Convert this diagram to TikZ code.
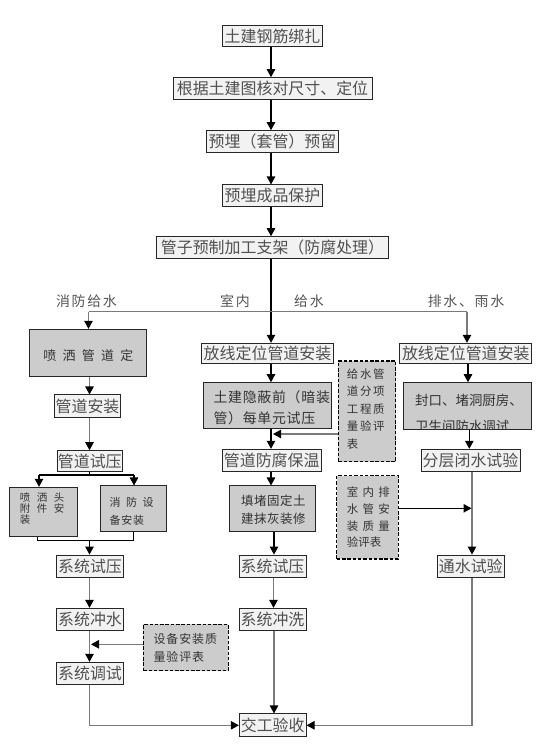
\documentclass[tikz,border=0pt]{standalone}
\usepackage{fontspec}
\newfontfamily\cjk{Noto Sans CJK SC}
\usetikzlibrary{arrows.meta}
\definecolor{boxfill}{HTML}{F2F2F2}
\definecolor{grayfill}{HTML}{CCCCCC}
\definecolor{txtgray}{HTML}{505050}
\definecolor{lblgray}{HTML}{555555}
\definecolor{darktxt}{HTML}{333333}
\definecolor{lgray}{HTML}{7A7A7A}
\begin{document}
\begin{tikzpicture}[x=1bp,y=-1bp,
 sbox/.style={draw=black!85, line width=1bp, fill=boxfill, text=txtgray, inner sep=0pt, font=\cjk\fontsize{16}{16}\selectfont},
 gbox/.style={draw=black!85, line width=1bp, fill=grayfill, inner sep=0pt},
 dbox/.style={draw=black, line width=1.3bp, dash pattern=on 3.5bp off 1.8bp, fill=grayfill, inner sep=0pt},
 gtext/.style={text=darktxt, inner sep=0pt, align=left, anchor=west},
 lbl/.style={text=lblgray, inner sep=0pt, font=\cjk\fontsize{14}{14}\selectfont\addfontfeatures{LetterSpace=12}},
 ln/.style={line width=1.1bp, draw=black},
 lg/.style={line width=1.1bp, draw=lgray},
 arr/.style={-{Triangle[width=8.5bp,length=8bp,black]}},
]
\useasboundingbox (0,0) rectangle (554,746);
\fill[white] (0,0) rectangle (554,746);

% top chain
\node[sbox, minimum width=100bp, minimum height=21.7bp] (n1) at (272.5,36) {土建钢筋绑扎};
\node[sbox, minimum width=199bp, minimum height=21.6bp] (n2) at (272.5,88.5) {根据土建图核对尺寸、定位};
\node[sbox, minimum width=132.6bp, minimum height=21.6bp] (n3) at (272.5,141.5) {预埋（套管）预留};
\node[sbox, minimum width=99.6bp, minimum height=21.7bp] (n4) at (272.5,195.8) {预埋成品保护};
\node[sbox, minimum width=231.6bp, minimum height=21.6bp] (n5) at (272.5,247.5) {管子预制加工支架（防腐处理）};

% branch labels
\node[lbl] (t1) at (86.5,301.5) {消防给水};
\node[lbl] (t2) at (235,301.5) {室内};
\node[lbl] (t3) at (309,301.5) {给水};
\node[lbl] (t4) at (466,301.5) {排水、雨水};

% left column
\node[gbox, minimum width=116bp, minimum height=47.4bp] (L1) at (88,353) {};
\node[gtext, anchor=center, font=\cjk\fontsize{13}{13}\selectfont] (L1t) at (88.3,356) {喷\hspace{6.3bp}洒\hspace{6.3bp}管\hspace{6.3bp}道\hspace{6.3bp}定};
\node[sbox, minimum width=65.7bp, minimum height=22.7bp] (L2) at (87.5,406.3) {管道安装};
\node[sbox, minimum width=65bp, minimum height=21bp] (L3) at (89.8,461.2) {管道试压};
\node[gbox, minimum width=67bp, minimum height=49.4bp] (L4) at (43.5,512) {};
\node[gtext, font=\cjk\fontsize{10.5}{11}\selectfont] (L4t) at (19.8,509) {喷\hspace{6.5bp}洒\hspace{6.5bp}头\\附\hspace{6.5bp}件\hspace{6.5bp}安\\装};
\node[gbox, minimum width=66bp, minimum height=45.7bp] (L5) at (133.5,508.8) {};
\node[gtext, font=\cjk\fontsize{11}{18}\selectfont] (L5t) at (109.5,511) {消\hspace{5.5bp}防\hspace{5.5bp}设\\备\hspace{0.7bp}安\hspace{0.7bp}装};
\node[sbox, minimum width=66.6bp, minimum height=22.3bp] (L6) at (90,566.2) {系统试压};
\node[sbox, minimum width=66.6bp, minimum height=21.7bp] (L7) at (90,619.2) {系统冲水};
\node[sbox, minimum width=66.6bp, minimum height=21.7bp] (L8) at (90,673.2) {系统调试};
\node[dbox, minimum width=85bp, minimum height=46.4bp] (D3) at (185.8,647.5) {};
\node[gtext, font=\cjk\fontsize{12}{17.4}\selectfont\addfontfeatures{LetterSpace=8}] (D3t) at (153.3,648) {设备安装质\\量验评表};

% final
\node[sbox, minimum width=66.7bp, minimum height=22.7bp] (F) at (272.7,725.3) {交工验收};

% middle column
\node[sbox, minimum width=131.6bp, minimum height=20bp] (M1) at (267.5,353.3) {放线定位管道安装};
\node[gbox, minimum width=127.7bp, minimum height=45.6bp] (M2) at (267.8,405.5) {};
\node[gtext, font=\cjk\fontsize{14}{20.5}\selectfont\addfontfeatures{LetterSpace=5}] (M2t) at (213.3,407.7) {土建隐蔽前（暗装\\管）每单元试压};
\node[sbox, minimum width=98.7bp, minimum height=22.4bp] (M3) at (271.7,460.5) {管道防腐保温};
\node[gbox, minimum width=85.7bp, minimum height=45.7bp] (M4) at (272.8,508.8) {};
\node[gtext, font=\cjk\fontsize{12.5}{17.6}\selectfont\addfontfeatures{LetterSpace=4}] (M4t) at (241,509.5) {填堵固定土\\建抹灰装修};
\node[sbox, minimum width=67bp, minimum height=22.3bp] (M5) at (272.5,566.2) {系统试压};
\node[sbox, minimum width=67bp, minimum height=21.7bp] (M6) at (272.5,619.2) {系统冲洗};
\node[dbox, minimum width=57.4bp, minimum height=100.7bp] (D1) at (367,411.3) {};
\node[gtext, font=\cjk\fontsize{11.5}{17.5}\selectfont\addfontfeatures{LetterSpace=15}] (D1t) at (346.7,409) {给水管\\道分项\\工程质\\量验评\\表};
\node[dbox, minimum width=61.6bp, minimum height=83.3bp] (D2) at (367.5,517.4) {};
\node[gtext, font=\cjk\fontsize{11.5}{16.8}\selectfont] (D2t) at (346.7,517.3) {室\hspace{4.3bp}内\hspace{4.3bp}排\\水\hspace{4.3bp}管\hspace{4.3bp}安\\装\hspace{4.3bp}质\hspace{4.3bp}量\\验评表};

% right column
\node[sbox, minimum width=131.7bp, minimum height=20bp] (R1) at (465.8,353.3) {放线定位管道安装};
\node[gbox, minimum width=127.7bp, minimum height=46.6bp] (R2) at (467.8,406) {};
\node[gtext, font=\cjk\fontsize{13.5}{13.5}\selectfont] (R2t) at (415,400.8) {封口、堵洞厨房、};
\begin{scope}
\clip (R2.south west) rectangle (R2.north east);
\node[gtext, font=\cjk\fontsize{13.5}{13.5}\selectfont] (R2u) at (415,426) {卫生间防水调试};
\end{scope}
\node[sbox, minimum width=99bp, minimum height=22.4bp] (R3) at (470.5,460.5) {分层闭水试验};
\node[sbox, minimum width=67bp, minimum height=22.3bp] (R4) at (470.8,566.2) {通水试验};

% coordinates
\coordinate (cx) at (271,0);
\coordinate (lx) at (89.5,0);
\coordinate (mx) at (271,0);
\coordinate (mx2) at (274,0);
\coordinate (mx3) at (273.5,0);
\coordinate (rx1) at (468,0);
\coordinate (rx15) at (469.3,0);
\coordinate (rx2) at (472,0);
\coordinate (hl) at (88.5,311.7);
\coordinate (hr) at (467,311.7);
\coordinate (bj) at (89.5,475);
\coordinate (bl) at (39,475);
\coordinate (br) at (134,475);
\coordinate (ml) at (37.5,540.5);
\coordinate (mr) at (133.3,540.5);
\coordinate (d1a) at (273,434);
\coordinate (d2a) at (471.5,508.3);
\coordinate (d3a) at (91,644.3);

% top connectors
\draw[ln,arr] (n1.south -| cx) -- (n2.north -| cx);
\draw[ln,arr] (n2.south -| cx) -- (n3.north -| cx);
\draw[ln,arr] (n3.south -| cx) -- (n4.north -| cx);
\draw[ln,arr] (n4.south -| cx) -- (n5.north -| cx);
\draw[ln,arr] (n5.south -| cx) -- (M1.north -| cx);

% split line
\draw[lg] (hl) -- (hr);
\draw[lg,arr] (hl) -- (L1.north -| hl);
\draw[lg,arr] (hr) -- (R1.north -| hr);

% left connectors
\draw[lg,arr] (L1.south -| lx) -- (L2.north -| lx);
\draw[lg,arr] (L2.south -| lx) -- (L3.north -| lx);
\draw[ln] (L3.south -| lx) -- (bj);
\draw[ln] (bl) -- (br);
\draw[ln,arr] (bl) -- (L4.north -| bl);
\draw[ln,arr] (br) -- (L5.north -| br);
\draw[ln] (L4.south -| ml) -- (ml) -- (mr) -- (L5.south -| mr);
\draw[ln,arr] (ml -| lx) -- (L6.north -| lx);
\draw[lg,arr] (L6.south -| lx) -- (L7.north -| lx);
\draw[lg,arr] (L7.south -| lx) -- (L8.north -| lx);
\draw[lg,arr] (D3.west |- d3a) -- (d3a);
\draw[lg,arr] (L8.south -| lx) |- (F.west);

% middle connectors
\draw[ln,arr] (M1.south -| mx) -- (M2.north -| mx);
\draw[ln,arr] (M2.south -| mx) -- (M3.north -| mx);
\draw[lg,arr] (D1.west |- d1a) -- (d1a);
\draw[ln,arr] (M3.south -| mx) -- (M4.north -| mx);
\draw[ln,arr] (M4.south -| mx2) -- (M5.north -| mx2);
\draw[lg,arr] (M5.south -| mx3) -- (M6.north -| mx3);
\draw[lg,arr] (M6.south -| mx2) -- (F.north -| mx2);

% right connectors
\draw[ln,arr] (R1.south -| rx1) -- (R2.north -| rx1);
\draw[ln,arr] (R2.south -| rx15) -- (R3.north -| rx15);
\draw[lg,arr] (R3.south -| rx2) -- (R4.north -| rx2);
\draw[ln,arr] (D2.east |- d2a) -- (d2a);
\draw[lg,arr] (R4.south -| rx2) |- (F.east);
\end{tikzpicture}
\end{document}
